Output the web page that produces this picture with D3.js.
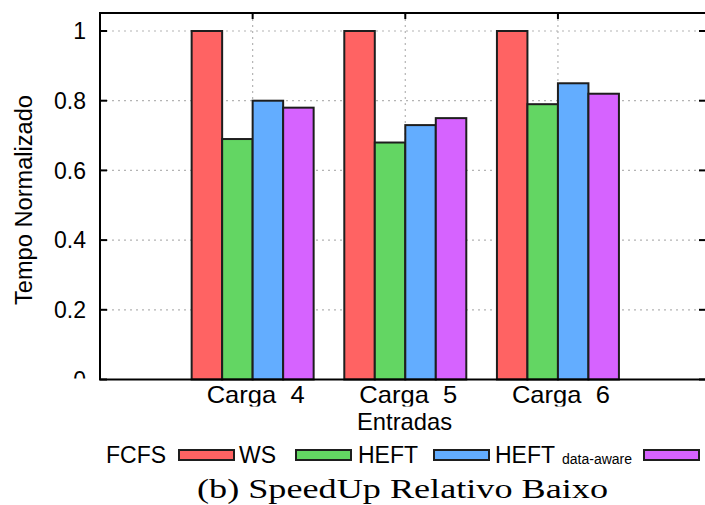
<!DOCTYPE html>
<html>
<head>
<meta charset="utf-8">
<script src="https://cdn.jsdelivr.net/npm/d3@7/dist/d3.min.js"></script>
<style>
  html, body { margin: 0; padding: 0; background: #fff; }
  svg { display: block; }
  text { font-family: "Liberation Sans", Arial, sans-serif; fill: #000; }
</style>
</head>
<body>
<svg id="chart" width="705" height="505"></svg>
<script>
// Workload categories and normalized execution time per scheduler
const categories = ["Carga  4", "Carga  5", "Carga  6"];
const seriesNames = ["FCFS", "WS", "HEFT", "HEFT data-aware"];
const fcfs = [1.00, 1.00, 1.00];
const ws = [0.69, 0.68, 0.79];
const heft = [0.80, 0.73, 0.85];
const heftDataAware = [0.78, 0.75, 0.82];
const yTicks = [0, 0.2, 0.4, 0.6, 0.8, 1];
const colors = ["#ff6363", "#63d663", "#63adff", "#d663ff"];

const series = [fcfs, ws, heft, heftDataAware];

const svg = d3.select("#chart");
const defs = svg.append("defs");
const plot = { left: 100, right: 706, top: 13, bottom: 379.5 };

// Category positions: index 0..2 on a linear axis spanning -1..3
const x = d3.scaleLinear().domain([-1, 2.97]).range([plot.left, plot.right]);
const y = d3.scaleLinear().domain([0, 1]).range([plot.bottom, 31]);
const barW = 30.5;
const offsets = [-2, -1, 0, 1]; // left edge of each bar relative to center, in bar widths

// Grid lines
const grid = svg.append("g").attr("stroke", "#b4b4b4").attr("stroke-width", 1.2)
  .attr("stroke-dasharray", "2,4");
yTicks.filter(v => v > 0).forEach(v => {
  grid.append("line").attr("x1", plot.left).attr("x2", plot.right)
    .attr("y1", y(v)).attr("y2", y(v));
});
categories.forEach((c, i) => {
  grid.append("line").attr("x1", x(i)).attr("x2", x(i))
    .attr("y1", plot.top).attr("y2", plot.bottom);
});

// Bars
const bars = svg.append("g");
series.forEach((vals, s) => {
  bars.selectAll(null).data(vals).enter().append("rect")
    .attr("x", (d, i) => x(i) + offsets[s] * barW)
    .attr("width", barW)
    .attr("y", d => y(d))
    .attr("height", d => plot.bottom - y(d))
    .attr("fill", colors[s])
    .attr("stroke", "#1e1e1e")
    .attr("stroke-width", 2);
});

// Frame
svg.append("rect").attr("x", plot.left).attr("y", plot.top)
  .attr("width", plot.right - plot.left).attr("height", plot.bottom - plot.top)
  .attr("fill", "none").attr("stroke", "#000").attr("stroke-width", 2);

// Y axis ticks on both sides, pointing inward
const ticks = svg.append("g").attr("stroke", "#000").attr("stroke-width", 2);
yTicks.forEach(v => {
  ticks.append("line").attr("x1", plot.left).attr("x2", plot.left + 7).attr("y1", y(v)).attr("y2", y(v));
  ticks.append("line").attr("x1", plot.right - 7).attr("x2", plot.right).attr("y1", y(v)).attr("y2", y(v));
});
categories.forEach((c, i) => {
  ticks.append("line").attr("x1", x(i)).attr("x2", x(i)).attr("y1", plot.top).attr("y2", plot.top + 6);
});

// Y tick labels, clipped at the bottom frame line
defs.append("clipPath").attr("id", "yclip")
  .append("rect").attr("x", 0).attr("y", 0).attr("width", plot.left).attr("height", plot.bottom - 1);
const yAxisG = svg.append("g").attr("clip-path", "url(#yclip)");
yTicks.forEach(v => {
  yAxisG.append("text").attr("x", 86).attr("y", y(v)).attr("dy", "0.36em")
    .attr("text-anchor", "end").attr("font-size", 23).text(d3.format("~g")(v));
});

// Category labels, descenders trimmed
defs.append("clipPath").attr("id", "xclip")
  .append("rect").attr("x", 0).attr("y", plot.bottom + 2).attr("width", 705).attr("height", 25);
const xAxisG = svg.append("g").attr("clip-path", "url(#xclip)");
categories.forEach((c, i) => {
  xAxisG.append("text").attr("x", x(i) - 46).attr("y", 403)
    .attr("font-size", 24).attr("textLength", 98).attr("lengthAdjust", "spacingAndGlyphs")
    .attr("xml:space", "preserve").style("white-space", "pre").text(c);
});

// Axis titles
svg.append("text").attr("x", 357).attr("y", 430)
  .attr("font-size", 24).attr("textLength", 95).attr("lengthAdjust", "spacingAndGlyphs")
  .text("Entradas");
svg.append("text").attr("transform", "translate(32,305) rotate(-90)")
  .attr("font-size", 23).attr("textLength", 210).attr("lengthAdjust", "spacingAndGlyphs")
  .text("Tempo Normalizado");

// Legend: label followed by its sample
const legend = svg.append("g");
const legendItems = [
  { label: "FCFS", tx: 106, sx: 179 },
  { label: "WS", tx: 239, sx: 296 },
  { label: "HEFT", tx: 358, sx: 434 },
  { label: "HEFT", sub: "data-aware", tx: 495, sx: 644 }
];
legendItems.forEach((it, s) => {
  legend.append("text").attr("x", it.tx).attr("y", 463).attr("font-size", 23).text(it.label);
  if (it.sub) {
    legend.append("text").attr("x", 562).attr("y", 464).attr("font-size", 14).text(it.sub);
  }
  legend.append("rect").attr("x", it.sx).attr("y", 450).attr("width", 55).attr("height", 10)
    .attr("fill", colors[s]).attr("stroke", "#1e1e1e").attr("stroke-width", 2);
});

// Caption
svg.append("text").attr("x", 197).attr("y", 498)
  .style("font-family", "'Liberation Serif', 'DejaVu Serif', serif")
  .attr("font-size", 28).attr("textLength", 411).attr("lengthAdjust", "spacingAndGlyphs")
  .attr("fill", "#111")
  .text("(b) SpeedUp Relativo Baixo");
</script>
</body>
</html>
